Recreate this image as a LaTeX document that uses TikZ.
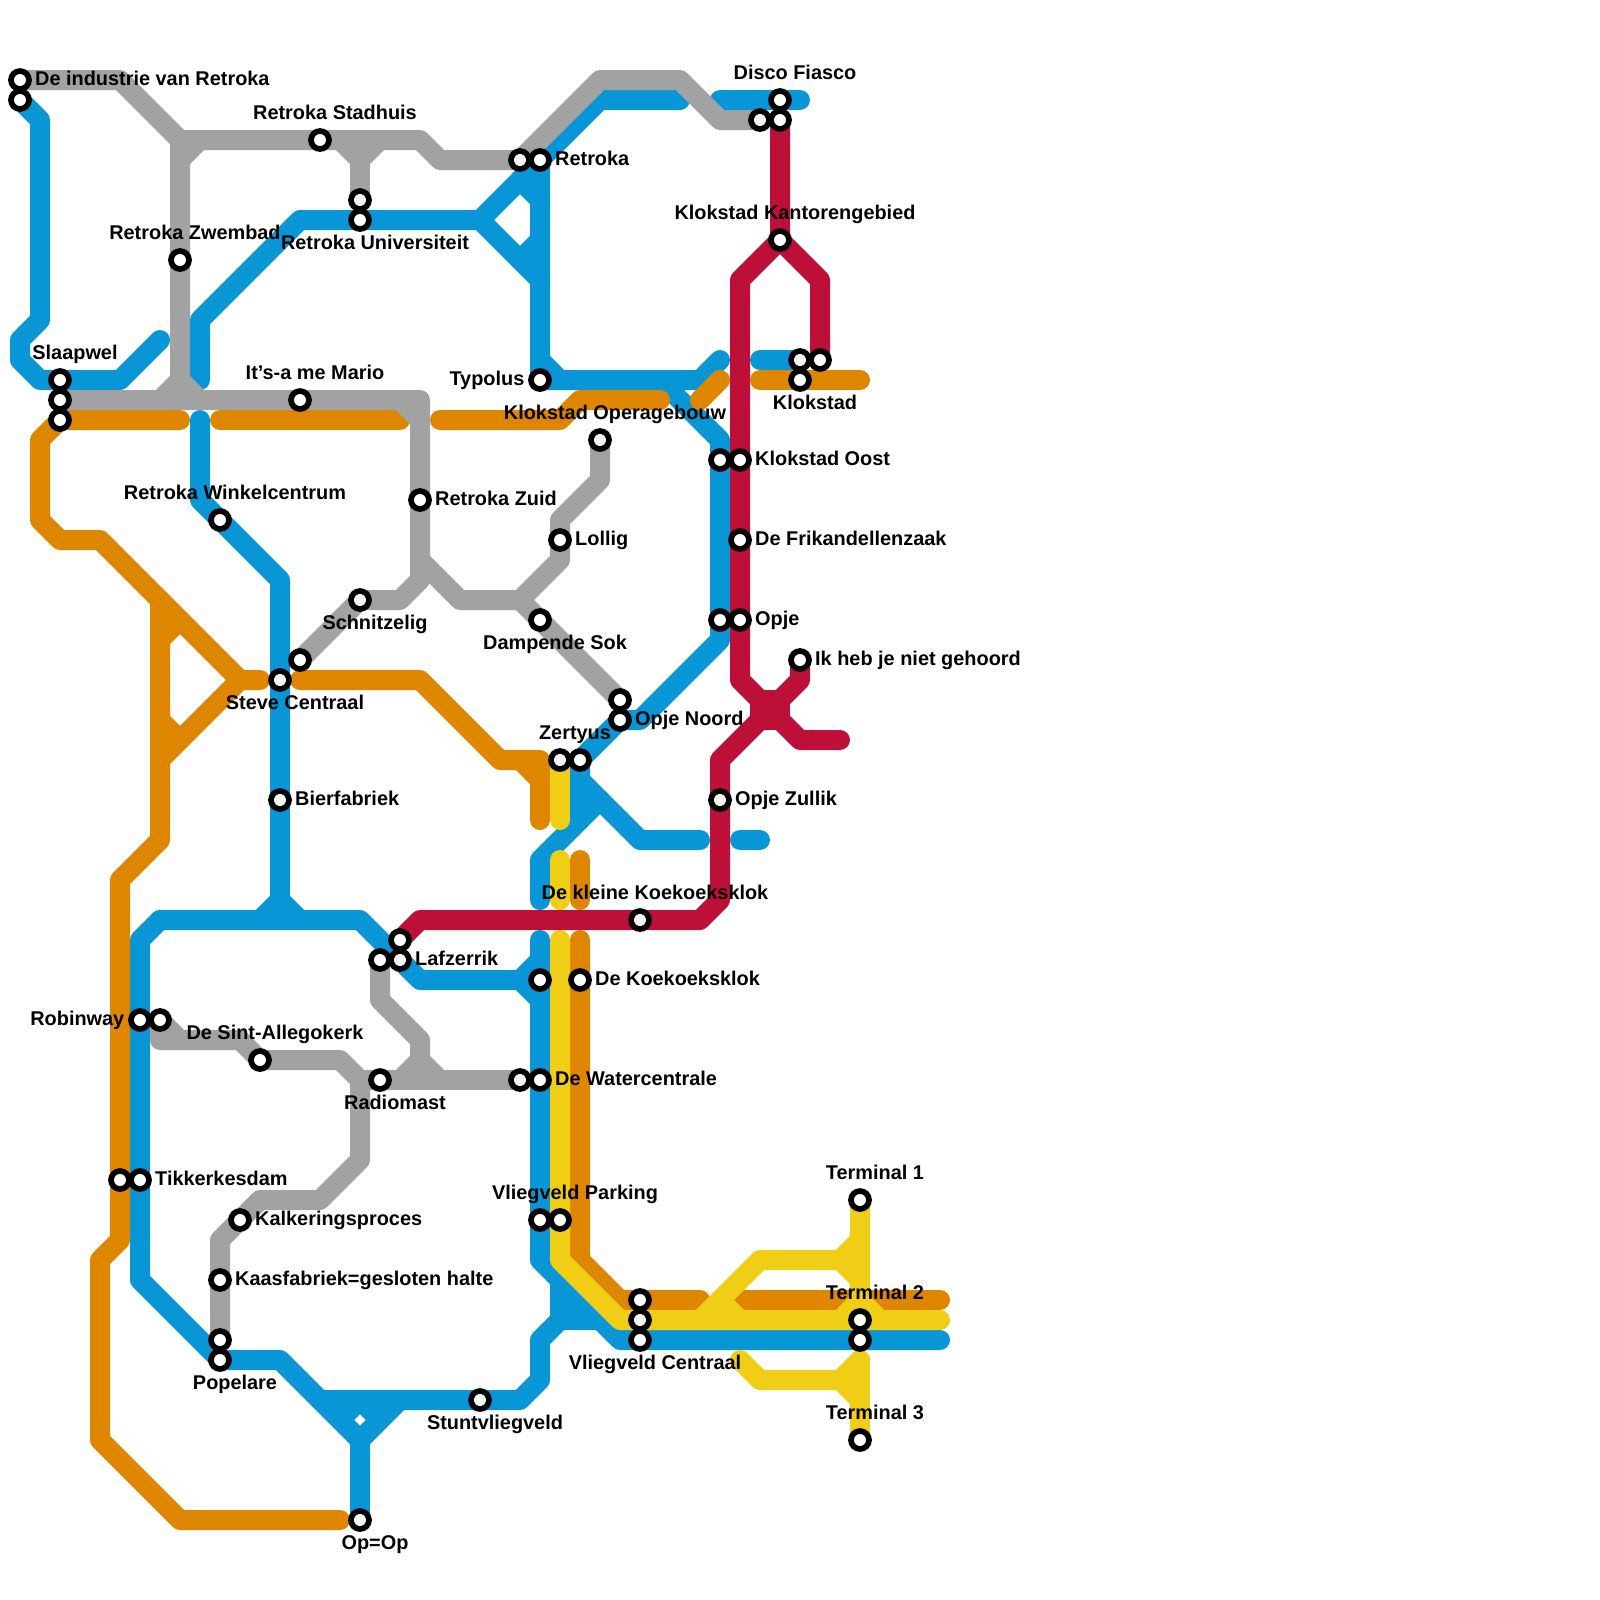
\documentclass[tikz,border=0pt]{standalone}
\usepackage{fontspec}
\setmainfont{Liberation Sans}
\usetikzlibrary{backgrounds}
\definecolor{lineblue}{HTML}{0896D7}
\definecolor{linegray}{HTML}{A2A2A2}
\definecolor{lineorange}{HTML}{DF8600}
\definecolor{lineyellow}{HTML}{F0CE15}
\definecolor{linered}{HTML}{BD1038}
\begin{document}
\begin{tikzpicture}[x=0.2cm, y=-0.2cm,
  font=\fontsize{5.66}{6.8}\selectfont\bfseries,
  halte/.style={draw=black, fill=white, circle, line width=0.057cm, minimum size=0.18cm, inner sep=0pt},
  lblright/.style={anchor=base west, inner sep=0pt, xshift=0.145cm, yshift=-0.054cm},
  lblleft/.style={anchor=base east, inner sep=0pt, xshift=-0.15cm, yshift=-0.054cm},
  lblup/.style={anchor=base, inner sep=0pt, xshift=0.15cm, yshift=0.203cm},
  lbldown/.style={anchor=base, inner sep=0pt, xshift=0.15cm, yshift=-0.297cm},
  track/.style={line width=0.2cm, line cap=round, line join=round},
  blueline/.style={track, draw=lineblue},
  grayline/.style={track, draw=linegray},
  orangeline/.style={track, draw=lineorange},
  yellowline/.style={track, draw=lineyellow},
  redline/.style={track, draw=linered}]
  \useasboundingbox (0,0) rectangle (80,80);

  % Stations
  \node[halte] (indus) at (1,4) {};
  \node[halte] (indusb) at (1,5) {};
  \node[halte] (slaap) at (3,19) {};
  \node[halte] (slaapb) at (3,20) {};
  \node[halte] (slaapc) at (3,21) {};
  \node[halte] (stadhuis) at (16,7) {};
  \node[halte] (zwembad) at (9,13) {};
  \node[halte] (univa) at (18,10) {};
  \node[halte] (univ) at (18,11) {};
  \node[halte] (retrokaw) at (26,8) {};
  \node[halte] (retroka) at (27,8) {};
  \node[halte] (typolus) at (27,19) {};
  \node[halte] (mario) at (15,20) {};
  \node[halte] (zuid) at (21,25) {};
  \node[halte] (winkel) at (11,26) {};
  \node[halte] (opera) at (30,22) {};
  \node[halte] (lollig) at (28,27) {};
  \node[halte] (schnitz) at (18,30) {};
  \node[halte] (dampend) at (27,31) {};
  \node[halte] (steven) at (15,33) {};
  \node[halte] (steve) at (14,34) {};
  \node[halte] (noordn) at (31,35) {};
  \node[halte] (noord) at (31,36) {};
  \node[halte] (zertyus) at (28,38) {};
  \node[halte] (zertyuse) at (29,38) {};
  \node[halte] (bier) at (14,40) {};
  \node[halte] (disco) at (39,5) {};
  \node[halte] (discow) at (38,6) {};
  \node[halte] (discos) at (39,6) {};
  \node[halte] (kantoor) at (39,12) {};
  \node[halte] (klokn) at (40,18) {};
  \node[halte] (klokne) at (41,18) {};
  \node[halte] (klokstad) at (40,19) {};
  \node[halte] (oostw) at (36,23) {};
  \node[halte] (oost) at (37,23) {};
  \node[halte] (frik) at (37,27) {};
  \node[halte] (opjew) at (36,31) {};
  \node[halte] (opje) at (37,31) {};
  \node[halte] (gehoord) at (40,33) {};
  \node[halte] (zullik) at (36,40) {};
  \node[halte] (kleine) at (32,46) {};
  \node[halte] (lafn) at (20,47) {};
  \node[halte] (lafw) at (19,48) {};
  \node[halte] (lafz) at (20,48) {};
  \node[halte] (koekw) at (27,49) {};
  \node[halte] (koek) at (29,49) {};
  \node[halte] (robin) at (7,51) {};
  \node[halte] (robine) at (8,51) {};
  \node[halte] (allego) at (13,53) {};
  \node[halte] (radio) at (19,54) {};
  \node[halte] (waterw) at (26,54) {};
  \node[halte] (water) at (27,54) {};
  \node[halte] (tikkerw) at (6,59) {};
  \node[halte] (tikker) at (7,59) {};
  \node[halte] (kalk) at (12,61) {};
  \node[halte] (kaas) at (11,64) {};
  \node[halte] (popn) at (11,67) {};
  \node[halte] (popelare) at (11,68) {};
  \node[halte] (stunt) at (24,70) {};
  \node[halte] (opop) at (18,76) {};
  \node[halte] (parkw) at (27,61) {};
  \node[halte] (parking) at (28,61) {};
  \node[halte] (centa) at (32,65) {};
  \node[halte] (centb) at (32,66) {};
  \node[halte] (centraal) at (32,67) {};
  \node[halte] (terma) at (43,60) {};
  \node[halte] (termb) at (43,66) {};
  \node[halte] (termbs) at (43,67) {};
  \node[halte] (termc) at (43,72) {};

  % Labels
  \node[lblright] (indus-t) at (indus.center) {De industrie van Retroka};
  \node[lblup] (slaap-t) at (slaap.center) {Slaapwel};
  \node[lblup] (stadhuis-t) at (stadhuis.center) {Retroka Stadhuis};
  \node[lblup] (zwembad-t) at (zwembad.center) {Retroka Zwembad};
  \node[lbldown] (univ-t) at (univ.center) {Retroka Universiteit};
  \node[lblright] (retroka-t) at (retroka.center) {Retroka};
  \node[lblleft] (typolus-t) at (typolus.center) {Typolus};
  \node[lblup] (mario-t) at (mario.center) {It’s-a me Mario};
  \node[lblright] (zuid-t) at (zuid.center) {Retroka Zuid};
  \node[lblup] (winkel-t) at (winkel.center) {Retroka Winkelcentrum};
  \node[lblup] (opera-t) at (opera.center) {Klokstad Operagebouw};
  \node[lblright] (lollig-t) at (lollig.center) {Lollig};
  \node[lbldown] (schnitz-t) at (schnitz.center) {Schnitzelig};
  \node[lbldown] (dampend-t) at (dampend.center) {Dampende Sok};
  \node[lbldown] (steve-t) at (steve.center) {Steve Centraal};
  \node[lblright] (noord-t) at (noord.center) {Opje Noord};
  \node[lblup] (zertyus-t) at (zertyus.center) {Zertyus};
  \node[lblright] (bier-t) at (bier.center) {Bierfabriek};
  \node[lblup] (disco-t) at (disco.center) {Disco Fiasco};
  \node[lblup] (kantoor-t) at (kantoor.center) {Klokstad Kantorengebied};
  \node[lbldown] (klokstad-t) at (klokstad.center) {Klokstad};
  \node[lblright] (oost-t) at (oost.center) {Klokstad Oost};
  \node[lblright] (frik-t) at (frik.center) {De Frikandellenzaak};
  \node[lblright] (opje-t) at (opje.center) {Opje};
  \node[lblright] (gehoord-t) at (gehoord.center) {Ik heb je niet gehoord};
  \node[lblright] (zullik-t) at (zullik.center) {Opje Zullik};
  \node[lblup] (kleine-t) at (kleine.center) {De kleine Koekoeksklok};
  \node[lblright] (lafz-t) at (lafz.center) {Lafzerrik};
  \node[lblright] (koek-t) at (koek.center) {De Koekoeksklok};
  \node[lblleft] (robin-t) at (robin.center) {Robinway};
  \node[lblup] (allego-t) at (allego.center) {De Sint-Allegokerk};
  \node[lbldown] (radio-t) at (radio.center) {Radiomast};
  \node[lblright] (water-t) at (water.center) {De Watercentrale};
  \node[lblright] (tikker-t) at (tikker.center) {Tikkerkesdam};
  \node[lblright] (kalk-t) at (kalk.center) {Kalkeringsproces};
  \node[lblright] (kaas-t) at (kaas.center) {Kaasfabriek=gesloten halte};
  \node[lbldown] (popelare-t) at (popelare.center) {Popelare};
  \node[lbldown] (stunt-t) at (stunt.center) {Stuntvliegveld};
  \node[lbldown] (opop-t) at (opop.center) {Op=Op};
  \node[lblup] (parking-t) at (parking.center) {Vliegveld Parking};
  \node[lbldown] (centraal-t) at (centraal.center) {Vliegveld Centraal};
  \node[lblup] (terma-t) at (terma.center) {Terminal 1};
  \node[lblup] (termb-t) at (termb.center) {Terminal 2};
  \node[lblup] (termc-t) at (termc.center) {Terminal 3};

  \begin{scope}[on background layer]
    % Blue lines
    \draw[blueline] (indusb.center) -- (2,6) -- (2,16) -- (1,17) -- (1,18) -- (2,19) -- (6,19) -- (8,17);
    \draw[blueline] (10,19) -- (10,16) -- (15,11) -- (24,11) -- (retroka.center) -- (30,5) -- (34,5);
    \draw[blueline] (24,11) -- (27,14);
    \draw[blueline] (26,9) -- (27,10);
    \draw[blueline] (26,13) -- (27,12);
    \draw[blueline] (retroka.center) -- (typolus.center) -- (35,19) -- (36,18);
    \draw[blueline] (27,18) -- (28,19);
    \draw[blueline] (33,19) -- (36,22) -- (36,32) -- (32,36) -- (noord.center) -- (zertyuse.center) -- (29,41);
    \draw[blueline] (30,40) -- (27,43) -- (27,45);
    \draw[blueline] (29,39) -- (32,42) -- (35,42);
    \draw[blueline] (37,42) -- (38,42);
    \draw[blueline] (36,5) -- (40,5);
    \draw[blueline] (38,18) -- (klokn.center);
    \draw[blueline] (10,21) -- (10,25) -- (14,29) -- (14,45) -- (13,46);
    \draw[blueline] (14,45) -- (15,46);
    \draw[blueline] (8,46) -- (18,46) -- (21,49) -- (26,49) -- (27,48);
    \draw[blueline] (26,49) -- (27,50);
    \draw[blueline] (27,47) -- (27,63) -- (31,67) -- (47,67);
    \draw[blueline] (28,64) -- (28,66) -- (27,67) -- (27,69) -- (26,70) -- (16,70);
    \draw[blueline] (28,66) -- (30,66);
    \draw[blueline] (28,65) -- (29,66);
    \draw[blueline] (8,46) -- (7,47) -- (7,64) -- (popelare.center) -- (14,68) -- (18,72) -- (opop.center);
    \draw[blueline] (20,70) -- (18,72);
    \draw[blueline] (17,71) -- (18,70) -- (19,71);

    % Orange lines
    \draw[orangeline] (9,21) -- (slaapc.center) -- (2,22) -- (2,26) -- (3,27) -- (5,27) -- (12,34) -- (13,34);
    \draw[orangeline] (12,34) -- (8,38);
    \draw[orangeline] (8,32) -- (9,31);
    \draw[orangeline] (8,36) -- (9,37);
    \draw[orangeline] (8,30) -- (8,42) -- (6,44) -- (6,62) -- (5,63) -- (5,72) -- (9,76) -- (17,76);
    \draw[orangeline] (11,21) -- (20,21);
    \draw[orangeline] (22,21) -- (28,21) -- (29,20) -- (33,20);
    \draw[orangeline] (35,20) -- (36,19);
    \draw[orangeline] (38,19) -- (43,19);
    \draw[orangeline] (15,34) -- (21,34) -- (25,38) -- (27,38) -- (27,41);
    \draw[orangeline] (26,38) -- (27,39);
    \draw[orangeline] (29,43) -- (29,45);
    \draw[orangeline] (29,47) -- (29,63) -- (31,65) -- (35,65);
    \draw[orangeline] (37,65) -- (47,65);

    % Yellow lines
    \draw[yellowline] (zertyus.center) -- (28,41);
    \draw[yellowline] (28,43) -- (28,45);
    \draw[yellowline] (28,47) -- (28,63) -- (31,66) -- (47,66);
    \draw[yellowline] (35,66) -- (38,63) -- (42,63) -- (43,62);
    \draw[yellowline] (42,63) -- (43,64);
    \draw[yellowline] (terma.center) -- (43,65) -- (42,66);
    \draw[yellowline] (43,65) -- (44,66);
    \draw[yellowline] (36,65) -- (37,66);
    \draw[yellowline] (37,68) -- (38,69) -- (42,69) -- (43,68);
    \draw[yellowline] (43,68) -- (termc.center);
    \draw[yellowline] (42,69) -- (43,70);

    % Gray lines
    \draw[grayline] (indus.center) -- (6,4) -- (9,7) -- (21,7) -- (22,8) -- (retrokaw.center) -- (30,4) -- (34,4) -- (36,6) -- (discow.center);
    \draw[grayline] (9,7) -- (9,19) -- (8,20);
    \draw[grayline] (9,19) -- (10,20);
    \draw[grayline] (9,8) -- (10,7);
    \draw[grayline] (17,7) -- (18,8) -- (19,7);
    \draw[grayline] (18,8) -- (univa.center);
    \draw[grayline] (slaapb.center) -- (21,20) -- (21,28) -- (23,30) -- (26,30) -- (28,28) -- (28,26) -- (30,24) -- (opera.center);
    \draw[grayline] (20,20) -- (21,21);
    \draw[grayline] (26,30) -- (noordn.center);
    \draw[grayline] (steven.center) -- (schnitz.center) -- (20,30) -- (21,29) -- (21,28);
    \draw[grayline] (robine.center) -- (8,52) -- (12,52) -- (13,53) -- (17,53) -- (18,54) -- (18,58) -- (16,60) -- (13,60) -- (11,62) -- (popn.center);
    \draw[grayline] (robine.center) -- (9,52);
    \draw[grayline] (18,54) -- (waterw.center);
    \draw[grayline] (lafw.center) -- (19,50) -- (21,52) -- (21,53) -- (20,54);
    \draw[grayline] (21,53) -- (22,54);

    % Red lines
    \draw[redline] (discos.center) -- (kantoor.center) -- (37,14) -- (37,34) -- (40,37) -- (42,37);
    \draw[redline] (kantoor.center) -- (41,14) -- (klokne.center);
    \draw[redline] (gehoord.center) -- (40,34) -- (36,38) -- (36,45) -- (35,46) -- (21,46) -- (lafn.center);
    \draw[redline] (38,35) -- (39,35) -- (39,36) -- (38,36) -- cycle;
  \end{scope}
\end{tikzpicture}
\end{document}
